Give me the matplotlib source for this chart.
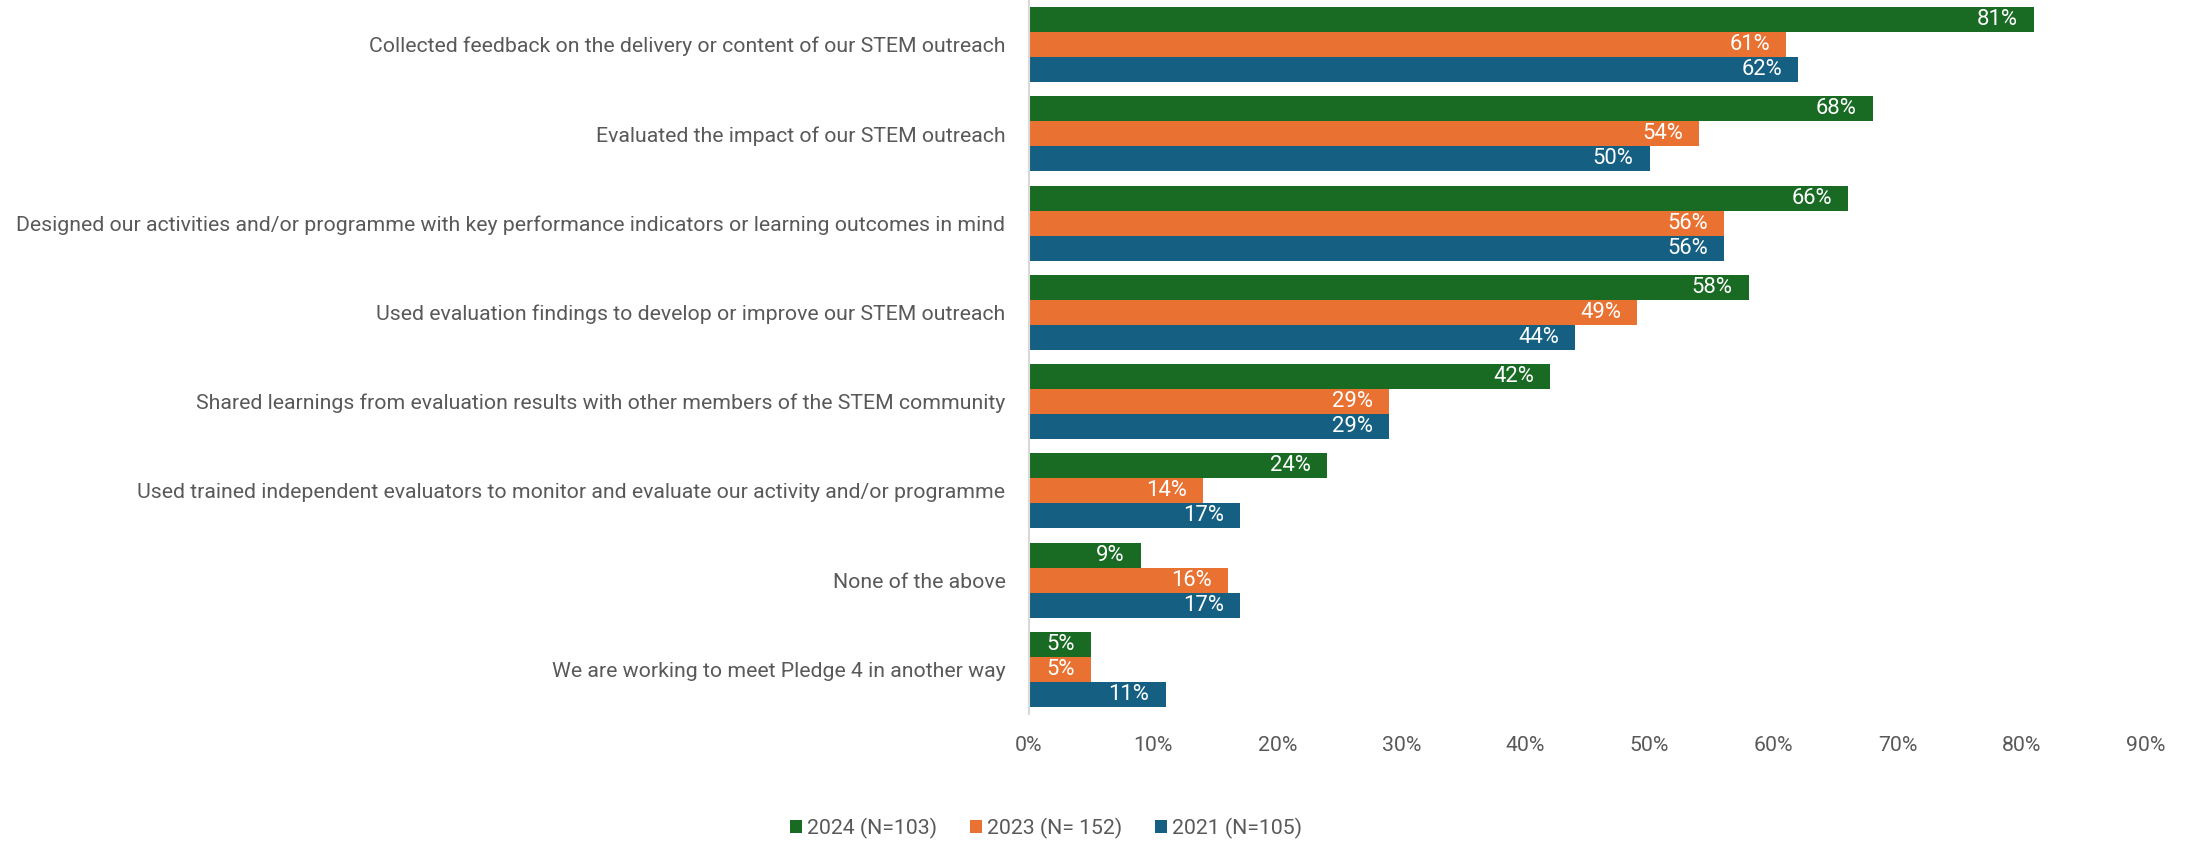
import matplotlib
matplotlib.use('Agg')
import matplotlib.pyplot as plt
from matplotlib.patches import Patch
import numpy as np

plt.rcParams['font.family'] = ['Roboto', 'DejaVu Sans']

# 调查选项（自上而下）
categories = [
    'Collected feedback on the delivery or content of our STEM outreach',
    'Evaluated the impact of our STEM outreach',
    'Designed our activities and/or programme with key performance indicators or learning outcomes in mind',
    'Used evaluation findings to develop or improve our STEM outreach',
    'Shared learnings from evaluation results with other members of the STEM community',
    'Used trained independent evaluators to monitor and evaluate our activity and/or programme',
    'None of the above',
    'We are working to meet Pledge 4 in another way',
]
series_names = ['2024 (N=103)', '2023 (N= 152)', '2021 (N=105)']
vals_2024 = [81, 68, 66, 58, 42, 24, 9, 5]
vals_2023 = [61, 54, 56, 49, 29, 14, 16, 5]
vals_2021 = [62, 50, 56, 44, 29, 17, 17, 11]
x_ticks = [0, 10, 20, 30, 40, 50, 60, 70, 80, 90]

colors = ['#196B24', '#E97132', '#156082']
text_gray = '#595959'
fs = 15.35

W, H = 2201, 842
fig = plt.figure(figsize=(W / 100, H / 100), dpi=100)
ax = fig.add_axes([1029 / W, 1 - 714 / H, (2146 - 1029) / W, 714 / H])

n = len(categories)
bar_h = 0.28
centers = np.arange(n) + 0.5
for k, (vals, col) in enumerate(zip([vals_2024, vals_2023, vals_2021], colors)):
    y = centers + (k - 1) * bar_h
    ax.barh(y, vals, height=bar_h, color=col, edgecolor='none')
    for yi, v in zip(y, vals):
        ax.text(v - 1.3, yi, f'{v}%', ha='right', va='center',
                color='white', fontsize=fs + 0.5)

ax.set_xlim(0, 90)
ax.set_ylim(n, 0)
ax.set_xticks(x_ticks)
ax.set_xticklabels([f'{t}%' for t in x_ticks], color=text_gray, fontsize=fs)
ax.set_yticks(centers)
ax.set_yticklabels(categories, color=text_gray, fontsize=fs)
ax.tick_params(axis='both', length=0)
ax.tick_params(axis='x', pad=16)
ax.tick_params(axis='y', pad=17)

for s in ['top', 'right', 'bottom']:
    ax.spines[s].set_visible(False)
ax.spines['left'].set_color('#D9D9D9')
ax.spines['left'].set_linewidth(1.5)

handles = [Patch(facecolor=c, edgecolor='none') for c in colors]
fig.legend(handles, series_names, loc='center', bbox_to_anchor=(1046 / W, 1 - 828 / H),
           ncol=3, frameon=False, fontsize=fs, labelcolor=text_gray,
           handlelength=0.55, handleheight=0.55, handletextpad=0.25, columnspacing=1.55)

fig.savefig('out.png', dpi=100)
